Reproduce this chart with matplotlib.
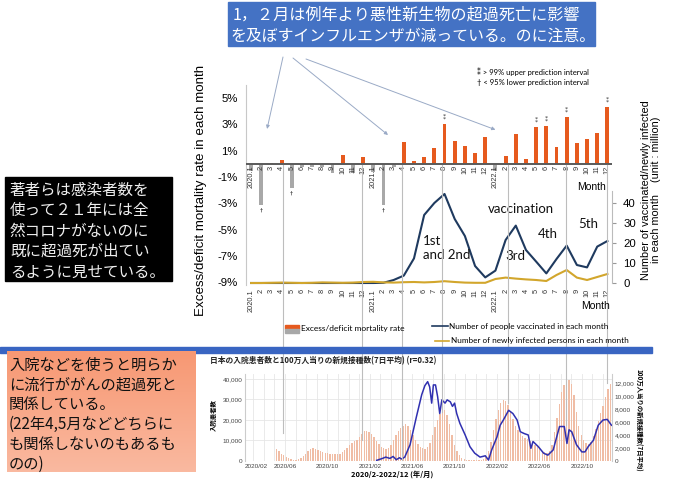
import matplotlib.pyplot as plt
import numpy as np
import matplotlib.transforms as mtransforms
from matplotlib.patches import Rectangle
from matplotlib.lines import Line2D
from matplotlib.colors import LinearSegmentedColormap

W, H = 680, 484
def fx(x): return x / W
def fy(y): return 1 - y / H

JP = ['Noto Sans CJK JP', 'DejaVu Sans']
EN = ['Lato', 'DejaVu Sans']
AR = ['Liberation Sans', 'DejaVu Sans']

### 上段: 月別の超過/過少死亡率とワクチン接種数・新規感染者数
months = []
for yr in [2020, 2021, 2022]:
    months += ['%d.1' % yr] + [str(k) for k in range(2, 13)]

excess = [-0.5, -3.1, 0.05, 0.3, -1.8, -0.2, -0.2, -0.2, -0.65, 0.65, -0.65, 0.55,
          -0.6, -3.1, -0.2, 1.65, 0.23, 0.53, 1.25, 3.05, 1.75, 1.38, 0.85, 2.08,
          -0.5, 0.63, 2.25, 0.4, 2.84, 2.92, 1.32, 3.6, 1.57, 1.9, 2.33, 4.36]
upper_pi = [19, 28, 29, 31, 35]     # ** > 99% upper prediction interval
lower_pi = [1, 4, 13]               # † < 95% lower prediction interval

vaccinated = [0, 0, 0, 0, 0, 0, 0, 0, 0, 0, 0, 0,
              0, 0.1, 1.5, 3.7, 12.3, 34, 40, 44.5, 32, 23.5, 8.5, 2.8,
              6.2, 21.5, 28.7, 16.5, 10.7, 4.8, 12, 18.7, 9, 7.8, 18.2, 21]
infected = [0.0, 0.0, 0.1, 0.2, 0.1, 0.0, 0.1, 0.3, 0.2, 0.1, 0.2, 0.5,
            0.6, 0.3, 0.2, 0.4, 0.5, 0.3, 0.5, 0.9, 0.5, 0.2, 0.1, 0.1,
            2.0, 2.7, 2.2, 1.8, 1.5, 1.0, 4.0, 6.5, 2.7, 1.5, 3.0, 4.5]

wave_labels = ['1st\nand 2nd', 'vaccination', '3rd', '4th', '5th']
wave_pos = [(16.9, 17.5), (26.5, 37), (26.0, 13.5), (29.1, 24.5), (33.1, 29.5)]

### 下段: 入院患者数(週)と100万人当りの新規接種数
hosp_start = 4.2                    # 2020/05 上旬 (月単位, 0 = 2020/01/01)
hosp = [5.8, 4.7, 3.6, 2.7, 1.9, 1.3, 0.9, 0.7, 0.7, 0.9,
        1.5, 2.5, 3.6, 4.8, 5.8, 6.2, 6.0, 5.6, 5.0, 4.5,
        4.1, 3.8, 3.5, 3.3, 3.3, 3.4, 3.6, 4.2, 5.2, 6.5,
        7.8, 8.8, 9.6, 10.3, 11.5, 13.0, 14.6, 14.8, 14.3, 13.2,
        11.6, 9.8, 8.2, 7.0, 6.2, 6.0, 6.5, 8.0, 10.2, 12.5,
        14.6, 16.2, 17.2, 17.8, 17.0, 15.0, 12.5, 10.2, 8.3, 7.0,
        6.2, 6.0, 6.8, 9.0, 12.5, 16.5, 20.0, 22.8, 24.5, 24.8,
        22.5, 18.0, 12.5, 8.0, 4.8, 2.8, 1.6, 1.0, 0.7, 0.5,
        0.4, 0.4, 0.4, 0.4, 0.5, 0.8, 2.0, 5.0, 9.5, 15.0,
        20.5, 25.0, 28.5, 29.8, 29.0, 27.5, 24.0, 20.5, 17.0, 15.0,
        13.5, 12.0, 11.0, 10.5, 9.8, 9.0, 8.0, 7.0, 5.8, 4.8,
        4.2, 4.0, 4.8, 8.0, 14.0, 21.0, 28.0, 33.5, 37.0, 38.8,
        39.3, 37.5, 32.0, 24.0, 17.0, 12.5, 10.0, 8.8, 8.5, 9.5,
        12.0, 15.5, 19.5, 23.5, 27.0, 31.0, 35.0, 37.5]   # 千人

vac_m = [13.65, 14.2, 14.5, 14.9, 15.2, 15.5, 15.8, 16.0, 16.3, 16.8,
         17.4, 17.9, 18.2, 18.46, 18.65, 18.84, 19.0, 19.2, 19.4, 19.6,
         19.8, 20.1, 20.3, 20.6, 20.8, 21.0, 21.2, 21.5, 22.0, 22.45,
         22.9, 23.4, 23.9, 24.2, 24.5, 25.0, 25.3, 25.6, 26.1, 26.5,
         26.9, 27.2, 27.6, 27.95, 28.2, 28.4, 28.9, 29.4, 29.8, 30.3,
         30.6, 30.9, 31.35, 31.6, 31.8, 32.05, 32.5, 33.0, 33.3, 33.6,
         34.1, 34.55, 35.0, 35.4, 35.8]
vac_v = [0.1, 0.4, 0.6, 0.4, 0.7, 0.2, 0.5, 0.3, 0.6, 2.5,
         6.8, 10.2, 11.6, 12.2, 11.4, 8.9, 11.7, 11.7, 9.9, 7.3,
         9.4, 8.9, 9.4, 9.1, 8.4, 8.9, 7.3, 5.8, 4.0, 2.2,
         1.2, 0.6, 0.8, 0.15, 1.7, 3.7, 5.5, 6.3, 7.8, 7.3,
         6.3, 4.5, 4.2, 4.0, 1.95, 3.0, 2.2, 1.2, 0.9, 1.7,
         3.5, 5.3, 5.3, 2.7, 4.8, 4.5, 2.5, 1.4, 1.4, 2.2,
         3.2, 5.5, 6.3, 6.4, 5.5]   # 千回/100万人

bottom_ticks = ['2020/02', '2020/06', '2020/10', '2021/02', '2021/06',
                '2021/10', '2022/02', '2022/06', '2022/10']

link_months = [3.1, 10.9, 14.8, 18.8, 25.2, 30.9, 35.0]
link_end = [433, 440, 460, 412, 403, 425, 383]


fig = plt.figure(figsize=(6.8, 4.84), dpi=100)

###上段グラフ
ax = fig.add_axes([fx(246), fy(285), (612 - 246) / W, (285 - 85) / H])
x = np.arange(len(months))
bar_colors = ['#E65A1E' if v > 0.04 else '#A8A8A8' for v in excess]
ax.bar(x, excess, width=0.38, color=bar_colors, zorder=3)
ax.axhline(0, color='#5a5a5a', lw=1.4, zorder=4)
ax.set_xlim(-0.5, 35.45)
ax.set_ylim(-9.2, 6.0)
ax.set_yticks([5, 3, 1, -1, -3, -5, -7, -9])
ax.set_yticklabels(['5%', '3%', '1%', '-1%', '-3%', '-5%', '-7%', '-9%'],
                   family=AR, fontsize=8.2)
ax.tick_params(axis='y', length=0, pad=6)
ax.set_xticks(x)
ax.set_xticklabels(months, rotation=90, family=AR, fontsize=5.3, color='#333333')
ax.tick_params(axis='x', length=0, pad=3)
for s in ['top', 'bottom', 'right']:
    ax.spines[s].set_visible(False)
ax.spines['left'].set_color('#c8c8c8')
ax.patch.set_alpha(0)

for i, lab in enumerate(months):
    ax.text(i, -0.12, lab, rotation=90, ha='center', va='top',
            family=AR, fontsize=5.3, color='#333333', zorder=5)
for i in upper_pi:
    ax.text(i, excess[i] + 0.15, '*\n*', ha='center', va='bottom',
            fontsize=4.5, linespacing=0.5, color='#333333')
for i in lower_pi:
    ax.text(i, excess[i] - 0.2, '†', ha='center', va='top',
            fontsize=4.5, color='#333333')

axr = ax.twinx()
axr.plot(x, vaccinated, color='#1F3A5F', lw=1.5, zorder=3)
axr.plot(x, infected, color='#D2A62C', lw=1.5, zorder=3)
axr.set_ylim(-1, 99)
axr.set_yticks([0, 10, 20, 30, 40])
axr.set_yticklabels(['0', '10', '20', '30', '40'], family=AR, fontsize=8.2)
axr.tick_params(axis='y', length=3, color='#999999', pad=5)
for s in ['top', 'bottom', 'left']:
    axr.spines[s].set_visible(False)
axr.spines['right'].set_color('#bbbbbb')
axr.spines['right'].set_bounds(0, 46)
for lab, (px, py) in zip(wave_labels, wave_pos):
    ha = 'left' if lab.startswith('1st') else 'center'
    axr.text(px, py, lab, ha=ha, va='center', family=EN, fontsize=9.5,
             linespacing=1.25, color='#111111')

fig.text(fx(592), fy(187), 'Month', ha='center', va='center', family=AR, fontsize=7.5)
fig.text(fx(596), fy(306), 'Month', ha='center', va='center', family=AR, fontsize=7.5)
fig.text(fx(201), fy(190), 'Excess/deficit mortality rate in each month', rotation=90,
         ha='center', va='center', family=AR, fontsize=9.6)
fig.text(fx(651), fy(190), 'Number of vaccinated/newly infected\nin each month    (unit : million)',
         rotation=90, ha='center', va='center', family=AR, fontsize=7.8,
         linespacing=1.1, multialignment='center')
fig.text(fx(477), fy(71), '⁑ > 99% upper prediction interval', va='center',
         family=EN, fontsize=5.5)
fig.text(fx(477), fy(82), '† < 95% lower prediction interval', va='center',
         family=EN, fontsize=5.5)

# 凡例
fig.patches.append(Rectangle((fx(285), fy(329)), 14 / W, 4 / H, color='#E65A1E',
                             transform=fig.transFigure))
fig.patches.append(Rectangle((fx(285), fy(333)), 14 / W, 4 / H, color='#A8A8A8',
                             transform=fig.transFigure))
fig.text(fx(301), fy(329), 'Excess/deficit mortality rate', va='center', family=EN, fontsize=6)
fig.add_artist(Line2D([fx(432), fx(448)], [fy(326), fy(326)], color='#1F3A5F', lw=1.2))
fig.text(fx(449), fy(326), 'Number of people vaccinated in each month', va='center',
         family=EN, fontsize=5.9)
fig.add_artist(Line2D([fx(435), fx(449)], [fy(341), fy(341)], color='#D2A62C', lw=1.2))
fig.text(fx(451), fy(341), 'Number of newly infected persons in each month', va='center',
         family=EN, fontsize=5.9)

###下段グラフ
axb = fig.add_axes([fx(245), fy(461), (612 - 245) / W, (461 - 374) / H])
hosp_x = hosp_start + np.arange(len(hosp)) * 7 / 30.44
axb.bar(hosp_x, np.array(hosp) * 1000, width=0.13, color='#F0BDA5', zorder=2)
axb.set_xlim(1.23, 35.85)
axb.set_ylim(0, 42400)
axb.set_yticks([0, 10000, 20000, 30000, 40000])
axb.set_yticklabels(['0', '10,000', '20,000', '30,000', '40,000'], family=AR,
                    fontsize=4.6, color='#444444')
axb.set_xticks([1.23, 5, 9, 13, 17, 21, 25, 29, 33])
axb.set_xticklabels(bottom_ticks, family=AR, fontsize=4.6, color='#444444')
axb.get_xticklabels()[0].set_horizontalalignment('left')
axb.set_xticks(np.arange(2, 36), minor=True)
axb.tick_params(which='both', length=0, pad=2)
axb.grid(True, which='both', axis='x', color='#e6e6e6', lw=0.6, zorder=0)
axb.grid(True, which='major', axis='y', color='#e6e6e6', lw=0.6, zorder=0)
axb.set_axisbelow(True)
for s in ['top', 'bottom']:
    axb.spines[s].set_visible(False)
for s in ['left', 'right']:
    axb.spines[s].set_color('#cccccc')
axb.axhline(0, color='#bbbbbb', lw=0.6)

axbr = axb.twinx()
axbr.plot(vac_m, np.array(vac_v) * 1000, color='#3030B0', lw=1.1, zorder=3)
axbr.set_ylim(0, 13380)
axbr.set_yticks([0, 2000, 4000, 6000, 8000, 10000, 12000])
axbr.set_yticklabels(['0', '2,000', '4,000', '6,000', '8,000', '10,000', '12,000'],
                     family=AR, fontsize=4.6, color='#444444')
axbr.tick_params(length=0, pad=2)
for s in ['top', 'bottom', 'left', 'right']:
    axbr.spines[s].set_visible(False)

fig.text(fx(210), fy(361), '日本の入院患者数と100万人当りの新規接種数(7日平均) (r=0.32)',
         va='center', family=JP, fontsize=5.6, fontweight='bold', color='#222222')
fig.text(fx(213), fy(415), '入院患者数', rotation=90, ha='center', va='center',
         family=JP, fontsize=4.6, fontweight='bold')
fig.text(fx(638), fy(420), '100万人当りの新規接種数(7日平均)', rotation=270, ha='center',
         va='center', family=JP, fontsize=4.6, fontweight='bold')
fig.text(fx(392), fy(474), '2020/2-2022/12 (年/月)', ha='center', va='center',
         family=JP, fontsize=5.3, fontweight='bold')

###上下をつなぐ縦線
trans = mtransforms.blended_transform_factory(ax.transData, fig.transFigure)
for xm, ye in zip(link_months, link_end):
    fig.add_artist(Line2D([xm, xm], [fy(165), fy(ye)], transform=trans,
                          color='#bdbdbd', lw=0.8, zorder=1))

# 区切りの青帯
sep = Rectangle((0, fy(353)), 652 / W, 6 / H, color='#3965C2',
                transform=fig.transFigure, zorder=5)
fig.add_artist(sep)

###注釈ボックス
fig.add_artist(Rectangle((fx(228), fy(46)), (595 - 228) / W, 44 / H, color='#4472C4',
                         transform=fig.transFigure, zorder=5))
fig.text(fx(233), fy(15), '1，２月は例年より悪性新生物の超過死亡に影響', va='center',
         family=JP, fontsize=11.6, color='white', zorder=6)
fig.text(fx(231), fy(36), 'を及ぼすインフルエンザが減っている。のに注意。', va='center',
         family=JP, fontsize=11.4, color='white', zorder=6)

arrow_targets = [(1.57, 2.66), (13.45, 2.2), (24.0, 2.6)]
arrow_starts = [(283, 57), (293, 58), (306, 59)]
for (tx, ty), (sx, sy) in zip(arrow_targets, arrow_starts):
    ax.annotate('', xy=(tx, ty), xycoords='data', xytext=(fx(sx), fy(sy)),
                textcoords='figure fraction',
                arrowprops=dict(arrowstyle='-|>', color='#9aaac6', lw=0.7,
                                mutation_scale=5, shrinkA=0, shrinkB=0))

fig.add_artist(Rectangle((fx(5), fy(281)), 167 / W, 104 / H, color='black',
                         transform=fig.transFigure, zorder=5))
left_lines = ['著者らは感染者数を', '使って２１年には全', '然コロナがないのに',
              '既に超過死が出てい', 'るように見せている。']
for k, t in enumerate(left_lines):
    fig.text(fx(10), fy(190 + 20.5 * k), t, va='center', family=JP, fontsize=11.2,
             color='#eeeeee', zorder=6)

box = fig.add_axes([fx(7), fy(472), 188 / W, 121 / H], zorder=5)
grad = np.linspace(0, 1, 100).reshape(-1, 1)
box.imshow(grad, aspect='auto', extent=[0, 1, 0, 1],
           cmap=LinearSegmentedColormap.from_list('salmon', ['#F79873', '#FAB9A0']))
box.axis('off')
pink_lines = ['入院などを使うと明らか', 'に流行ががんの超過死と', '関係している。',
              '(22年4,5月などどちらに', 'も関係しないのもあるも', 'のの)']
for k, t in enumerate(pink_lines):
    fig.text(fx(9), fy(365 + 19.8 * k), t, va='center', family=JP, fontsize=11.0,
             color='#111111', zorder=6)

plt.savefig('out.png', dpi=100)
